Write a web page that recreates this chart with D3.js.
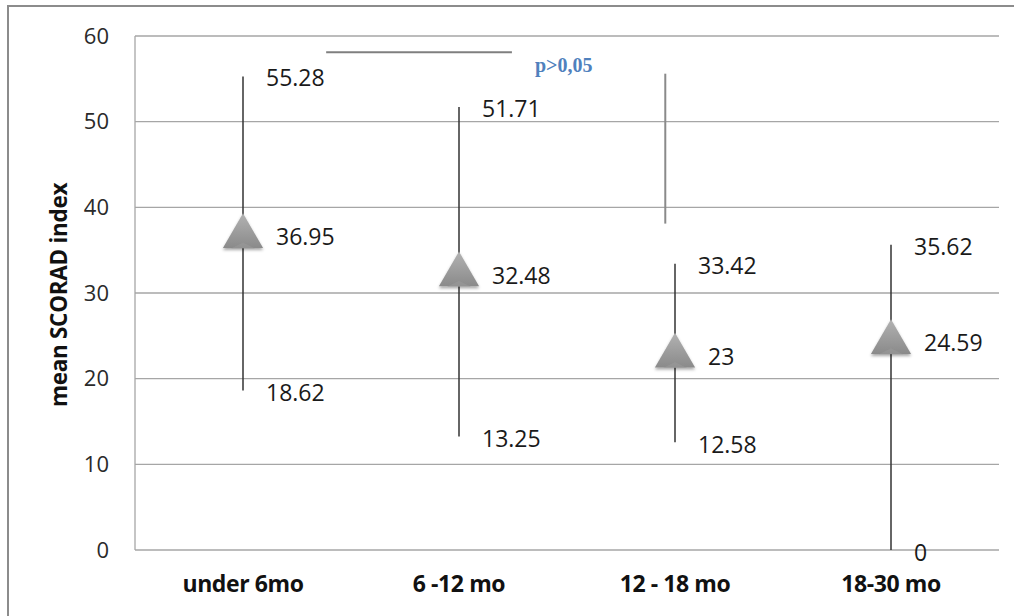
<!DOCTYPE html>
<html>
<head>
<meta charset="utf-8">
<script src="https://cdn.jsdelivr.net/npm/d3@7"></script>
<style>
  html, body { margin: 0; padding: 0; background: #fff; }
  svg { display: block; }
</style>
</head>
<body>
<svg id="chart" width="1014" height="616"></svg>
<script>
// Age groups and SCORAD summary values (mean with upper / lower bounds)
const categories = ["under 6mo", "6 -12 mo", "12 - 18 mo", "18-30 mo"];
const meanValues = [36.95, 32.48, 23, 24.59];
const highValues = [55.28, 51.71, 33.42, 35.62];
const lowValues  = [18.62, 13.25, 12.58, 0];
const yTicks = [0, 10, 20, 30, 40, 50, 60];
const yTitle = "mean SCORAD index";
const pLabel = "p>0,05";

const svg = d3.select("#chart");
const margin = { left: 135, right: 15, top: 36, bottom: 66 };
const W = 1014, H = 616;

const x = d3.scaleBand().domain(categories).range([margin.left, W - margin.right]);
const y = d3.scaleLinear().domain([0, 60]).range([H - margin.bottom, margin.top]);
const xc = c => x(c) + x.bandwidth() / 2;

// Outer chart frame (runs past the visible page on the right and bottom)
svg.append("rect")
  .attr("x", 8).attr("y", 6).attr("width", 1030).attr("height", 640)
  .attr("fill", "none").attr("stroke", "#8c8c8c").attr("stroke-width", 2);

// Defs: triangle shading and soft shadow
const defs = svg.append("defs");
const grad = defs.append("linearGradient").attr("id", "triFill")
  .attr("x1", 0).attr("y1", 0).attr("x2", 0).attr("y2", 1);
grad.append("stop").attr("offset", "0%").attr("stop-color", "#b2b2b2");
grad.append("stop").attr("offset", "100%").attr("stop-color", "#8a8a8a");
const shadow = defs.append("filter").attr("id", "triShadow")
  .attr("x", "-30%").attr("y", "-30%").attr("width", "160%").attr("height", "170%");
shadow.append("feDropShadow").attr("dx", 0).attr("dy", 2).attr("stdDeviation", 1.6)
  .attr("flood-color", "#000").attr("flood-opacity", 0.35);

// Horizontal gridlines
svg.append("g").selectAll("line").data(yTicks).join("line")
  .attr("x1", margin.left).attr("x2", W - margin.right)
  .attr("y1", d => y(d)).attr("y2", d => y(d))
  .attr("stroke", "#a6a6a6").attr("stroke-width", 1.3);

// Left edge of the plot area
svg.append("line")
  .attr("x1", margin.left).attr("x2", margin.left)
  .attr("y1", y(60)).attr("y2", y(0))
  .attr("stroke", "#a6a6a6").attr("stroke-width", 1.3);

// Y axis tick labels
const yAxis = d3.axisLeft(y).tickValues(yTicks).tickSize(0).tickPadding(26);
const gy = svg.append("g").attr("transform", `translate(${margin.left},0)`).call(yAxis);
gy.select(".domain").remove();
gy.selectAll("text")
  .attr("font-family", "'Open Sans', sans-serif").attr("font-size", 22)
  .attr("fill", "#2a2a2a");

// X axis category labels
const xAxis = d3.axisBottom(x).tickSize(0).tickPadding(26);
const gx = svg.append("g").attr("transform", `translate(0,${y(0)})`).call(xAxis);
gx.select(".domain").remove();
gx.selectAll("text")
  .attr("font-family", "'Open Sans', sans-serif").attr("font-size", 23)
  .attr("font-weight", "bold").attr("fill", "#111")
  .attr("letter-spacing", -0.4);

// Y axis title
svg.append("text")
  .attr("transform", `translate(58,${y(30) + 2}) rotate(-90)`)
  .attr("text-anchor", "middle").attr("dominant-baseline", "central")
  .attr("font-family", "'Open Sans', sans-serif").attr("font-size", 22.5)
  .attr("font-weight", "bold").attr("fill", "#111")
  .attr("letter-spacing", -0.3)
  .text(yTitle);

// Range whiskers
const rows = categories.map((c, i) => ({ c, mean: meanValues[i], hi: highValues[i], lo: lowValues[i] }));
svg.append("g").selectAll("line").data(rows).join("line")
  .attr("x1", d => xc(d.c)).attr("x2", d => xc(d.c))
  .attr("y1", d => y(d.hi)).attr("y2", d => y(d.lo))
  .attr("stroke", "#333").attr("stroke-width", 1.5);

// Triangle markers at the mean
const tri = d3.symbol().type(d3.symbolTriangle).size(700);
const mk = svg.append("g").selectAll("g").data(rows).join("g")
  .attr("transform", d => `translate(${xc(d.c)},${y(d.mean) + 3})`);
mk.append("path").attr("d", tri())
  .attr("fill", "url(#triFill)").attr("filter", "url(#triShadow)");
mk.append("path")
  .attr("d", "M0,6 L-12,12 L12,12 Z")
  .attr("fill", "#9a9a9a").attr("opacity", 0.6);

// Value labels
const labelFont = g => g
  .attr("font-family", "'Open Sans', sans-serif").attr("font-size", 23)
  .attr("fill", "#1a1a1a").attr("dominant-baseline", "central");
svg.append("g").selectAll("text").data(rows).join("text")
  .attr("x", d => xc(d.c) + 23).attr("y", d => y(d.hi) + 1)
  .call(labelFont).text(d => d.hi);
svg.append("g").selectAll("text").data(rows).join("text")
  .attr("x", d => xc(d.c) + 33).attr("y", d => y(d.mean) + 3)
  .call(labelFont).text(d => d.mean);
svg.append("g").selectAll("text").data(rows).join("text")
  .attr("x", d => xc(d.c) + 23).attr("y", d => y(d.lo) + 2)
  .call(labelFont).text(d => d.lo);

// Significance annotation: bracket lines and p-value note
const bandPos = t => margin.left + t * x.bandwidth();
svg.append("line")
  .attr("x1", bandPos(0.885)).attr("x2", bandPos(1.745))
  .attr("y1", y(58.1)).attr("y2", y(58.1))
  .attr("stroke", "#7f7f7f").attr("stroke-width", 2);
svg.append("line")
  .attr("x1", bandPos(2.455)).attr("x2", bandPos(2.455))
  .attr("y1", y(55.6)).attr("y2", y(38.1))
  .attr("stroke", "#8a8a8a").attr("stroke-width", 2);
svg.append("text")
  .attr("x", 535).attr("y", y(56.5) + 6)
  .attr("font-family", "'Liberation Serif', 'Times New Roman', serif")
  .attr("font-size", 20).attr("font-weight", "bold").attr("fill", "#4f81bd")
  .text(pLabel);
</script>
</body>
</html>
